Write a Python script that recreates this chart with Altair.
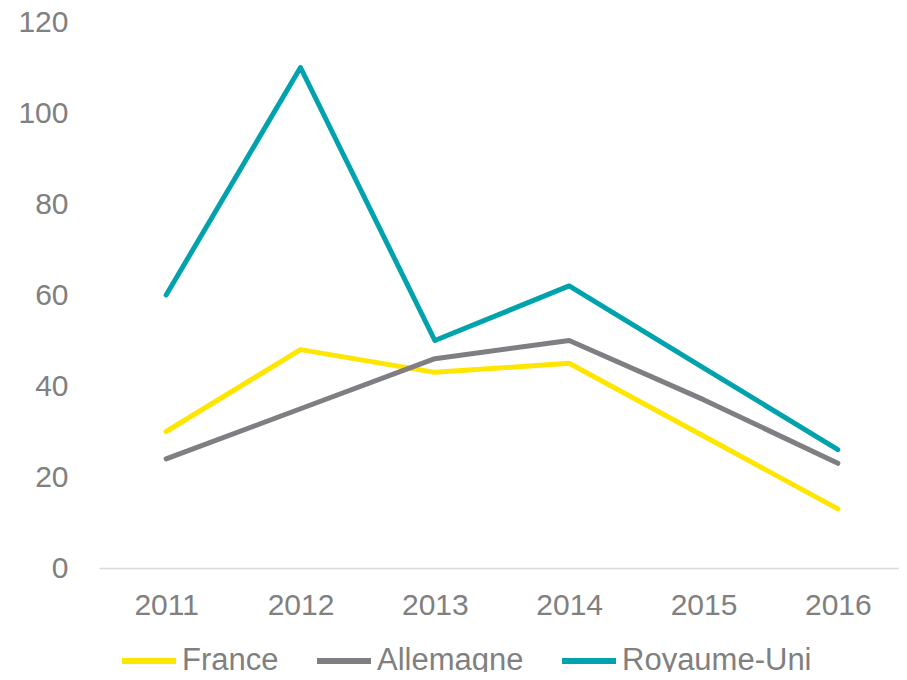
import altair as alt
import pandas as pd

years = ["2011", "2012", "2013", "2014", "2015", "2016"]
france = [30, 48, 43, 45, 29, 13]
allemagne = [24, 35, 46, 50, 37, 23]
royaume_uni = [60, 110, 50, 62, 44, 26]

series = ["France", "Allemagne", "Royaume-Uni"]
colors = ["#FFE600", "#7F7E82", "#00A3AD"]

rows = []
for name, vals in zip(series, [france, allemagne, royaume_uni]):
    for y, v in zip(years, vals):
        rows.append({"Année": y, "Pays": name, "Valeur": v})
df = pd.DataFrame(rows)

FONT = "Liberation Sans"
GRAY = "#808080"

chart = (
    alt.Chart(df)
    .mark_line(strokeWidth=5, strokeCap="round", strokeJoin="round")
    .encode(
        x=alt.X(
            "Année:O",
            scale=alt.Scale(type="point", padding=0.5),
            axis=alt.Axis(
                title=None,
                labelAngle=0,
                ticks=False,
                domain=True,
                domainColor="#D9D9D9",
                domainWidth=1.5,
                labelFontSize=30,
                labelColor=GRAY,
                labelFont=FONT,
                labelPadding=22,
                grid=False,
            ),
        ),
        y=alt.Y(
            "Valeur:Q",
            scale=alt.Scale(domain=[0, 120], nice=False, zero=True),
            axis=alt.Axis(
                title=None,
                values=[0, 20, 40, 60, 80, 100, 120],
                ticks=False,
                domain=False,
                grid=False,
                labelFontSize=30,
                labelColor=GRAY,
                labelFont=FONT,
                labelPadding=31,
            ),
        ),
        color=alt.Color(
            "Pays:N",
            scale=alt.Scale(domain=series, range=colors),
            sort=series,
            legend=alt.Legend(
                title=None,
                orient="none",
                legendX=20,
                legendY=609,
                direction="horizontal",
                symbolType="stroke",
                symbolSize=2916,
                symbolStrokeWidth=6,
                labelFontSize=31,
                labelColor=GRAY,
                labelFont=FONT,
                labelOffset=3,
                labelLimit=400,
                columnPadding=26,
                padding=0,
            ),
        ),
    )
    .properties(
        width=806,
        height=546,
        background="white",
        autosize=alt.AutoSizeParams(type="none"),
        padding={"left": 91, "top": 14, "right": -6, "bottom": 104},
    )
    .configure_view(strokeWidth=0, stroke="transparent")
)

chart.save("out.html", embed_options={"renderer": "svg", "actions": False})
